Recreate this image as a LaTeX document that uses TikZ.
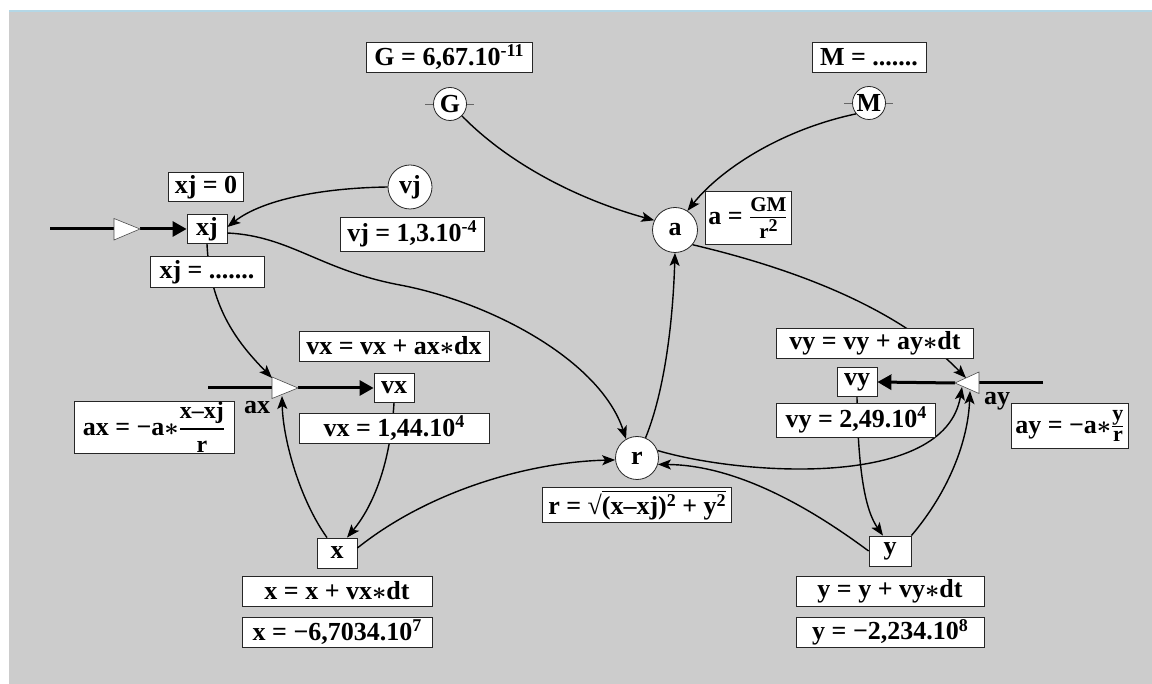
\documentclass[tikz,border=0pt]{standalone}
\usepackage{amsmath,amsbsy}
\usepackage{fontspec}
\setmainfont{Liberation Serif}
\usetikzlibrary{arrows.meta}
\definecolor{bgcol}{RGB}{204,204,204}
\definecolor{topline}{RGB}{180,215,230}
\newcommand\sups[1]{\raisebox{0.32em}{\fontsize{18}{18}\selectfont #1}}
\newcommand\myfrac[3][23]{$\genfrac{}{}{1.1pt}{1}{\hbox{\fontsize{#1}{#1}\selectfont\raisebox{2.5pt}{#2}}}{\hbox{\fontsize{#1}{#1}\selectfont #3}}$}
\newcommand\myfracD[3][23]{$\genfrac{}{}{1.1pt}{0}{\hbox{\fontsize{#1}{#1}\selectfont #2}}{\hbox{\fontsize{#1}{#1}\selectfont #3}}$}
\newcommand\st{$\boldsymbol{\ast}$}
\begin{document}
\begin{tikzpicture}[x=1pt,y=-1pt,
  font=\bfseries\fontsize{26}{30}\selectfont,
  lbl/.style={draw=black!85,fill=white,line width=0.8pt,inner sep=0pt},
  var/.style={draw=black!85,fill=white,line width=0.8pt,inner sep=0pt,minimum width=40pt,minimum height=29pt},
  circ/.style={circle,draw=black!85,fill=white,line width=0.8pt,inner sep=0pt},
  conn/.style={line width=1.4pt,-{Stealth[length=13pt,width=10pt,inset=3pt]}},
  flow/.style={line width=3pt,-{Triangle[length=14pt,width=15pt]}},
  plainflow/.style={line width=3pt},
  valve/.style={fill=white,draw=black!70,line width=0.6pt},
  stub/.style={draw=black!60,line width=0.8pt},
  txt/.style={inner sep=0pt}]
\useasboundingbox (0,0) rectangle (1152,684);
\fill[bgcol] (9,11) rectangle (1152,684);
\draw[topline,line width=1.5pt] (9,11) -- (1152,11);

% main nodes
\node[circ,minimum size=33pt] (G) at (450,104) {G};
\node[circ,minimum size=33pt] (M) at (869,103) {M};
\node[circ,minimum size=44pt] (vj) at (410,187) {vj};
\node[var] (xj) at (207,229) {xj};
\node[circ,minimum size=45pt] (a) at (675,230) {a};
\node[circ,minimum size=43pt] (r) at (637,458) {r};
\node[var] (vx) at (394,388) {vx};
\node[var,minimum height=30pt] (x) at (337,553) {x};
\node[var] (vy) at (857,382) {vy};
\node[var,minimum width=42pt,minimum height=30pt] (y) at (890,551) {y};

\draw[stub] (G.west) -- ++(-8,0) (G.east) -- ++(7,0);
\draw[stub] (M.west) -- ++(-8,0) (M.east) -- ++(7,0);

% triangles (rate valves)
\coordinate (inL) at (114,229);
\coordinate (inR) at (140,229);
\coordinate (axL) at (272,388);
\coordinate (axR) at (298,388);
\coordinate (axTop) at (272,378);
\coordinate (axBot) at (282,396);
\coordinate (ayL) at (955,383);
\coordinate (ayR) at (979,383);
\coordinate (ayTop) at (966,378);
\coordinate (ayB1) at (962,387);
\coordinate (ayB2) at (970,391);
\coordinate (src1) at (50,229);
\coordinate (src2) at (208,388);
\coordinate (src3) at (1043,383);

\draw[plainflow] (src1) -- (inL);
\draw[flow] (inR) -- (xj.west);
\draw[plainflow] (src2) -- (axL);
\draw[flow] (axR) -- (vx.west);
\draw[plainflow] (src3) -- (ayR);
\draw[flow] (ayL) -- (vy.east);

\draw[valve] (114,218.5) -- (140,229) -- (114,240) -- cycle;
\draw[valve] (272,377) -- (298,388) -- (272,398.5) -- cycle;
\draw[valve] (979,372) -- (955,383) -- (979,393.5) -- cycle;

% connectors
\draw[conn] (G.-45) .. controls (510,165) and (580,200) .. (a.155);
\draw[conn] (M.-140) .. controls (780,130) and (720,170) .. (a.57);
\draw[conn] (vj.180) .. controls (320,188) and (262,200) .. ([yshift=2pt]xj.east);
\draw[conn] ([yshift=-4pt]xj.east) .. controls (290,236) and (320,270) .. (400,285)
   .. controls (490,302) and (600,360) .. (r.120);
\draw[conn] (r.67) .. controls (665,390) and (673,320) .. (a.south);
\draw[conn] (a.-40) .. controls (800,270) and (900,310) .. (ayTop);
\draw[conn] (xj.south) .. controls (210,310) and (240,345) .. (axTop);
\draw[conn] (vx.south) .. controls (390,470) and (370,510) .. ([xshift=10pt]x.north);
\draw[conn] ([xshift=-10pt]x.north) .. controls (300,500) and (283,440) .. (axBot);
\draw[conn] ([yshift=5pt]x.east) .. controls (430,490) and (530,462) .. (r.185);
\draw[conn] (vy.south) .. controls (858,470) and (865,510) .. ([xshift=-7pt]y.north);
\draw[conn] (y.west) .. controls (800,500) and (730,465) .. (r.-17);
\draw[conn] (y.north east) .. controls (950,490) and (968,440) .. (ayB2);
\draw[conn] (r.20) .. controls (740,475) and (945,490) .. (ayB1);

% labels
\node[lbl,minimum width=166pt,minimum height=30pt] (Gval) at (449,57) {G = 6,67.10\sups{-11}};
\node[lbl,minimum width=114pt,minimum height=30pt] (Mval) at (869,57) {M = .......};
\node[lbl,minimum width=144pt,minimum height=34pt] (vjval) at (412,234) {vj = 1,3.10\sups{-4}};
\node[lbl,minimum width=75pt,minimum height=29pt] (xj0) at (206,187) {xj = 0};
\node[lbl,minimum width=114pt,minimum height=31pt] (xjval) at (207,272) {xj = .......};
\node[lbl,minimum width=86pt,minimum height=53pt] (aval) at (748,218) {a = \myfrac[21]{GM}{r\sups{2}}};
\node[lbl,minimum width=189pt,minimum height=35pt] (rval) at (637,505) {r = √$\overline{\hbox{(x–xj)\sups{2} + y\sups{2}}}$};
\node[lbl,minimum width=190pt,minimum height=30pt] (vxeq) at (394,346) {vx = vx + ax\st dx};
\node[lbl,minimum width=190pt,minimum height=30pt] (vxval) at (394,428) {vx = 1,44.10\sups{4}};
\node[lbl,minimum width=160pt,minimum height=52pt] (axeq) at (154,427) {ax = −a\st\myfracD[24]{x–xj}{r}};
\node[txt] (axlab) at (257,408) {ax};
\node[lbl,minimum width=190pt,minimum height=30pt] (xeq) at (337,591) {x = x + vx\st dt};
\node[lbl,minimum width=190pt,minimum height=30pt] (xval) at (337,632) {x = −6,7034.10\sups{7}};
\node[lbl,minimum width=197pt,minimum height=30pt] (vyeq) at (875,343) {vy = vy + ay\st dt};
\node[lbl,minimum width=159pt,minimum height=34pt] (vyval) at (856,420) {vy = 2,49.10\sups{4}};
\node[txt] (aylab) at (997,401) {ay};
\node[lbl,minimum width=117pt,minimum height=45pt] (ayeq) at (1070,426) {ay = −a\st\myfrac[22]{y}{r}};
\node[lbl,minimum width=188pt,minimum height=30pt] (yeq) at (890,591) {y = y + vy\st dt};
\node[lbl,minimum width=188pt,minimum height=30pt] (yval) at (890,632) {y = −2,234.10\sups{8}};
\end{tikzpicture}
\end{document}
